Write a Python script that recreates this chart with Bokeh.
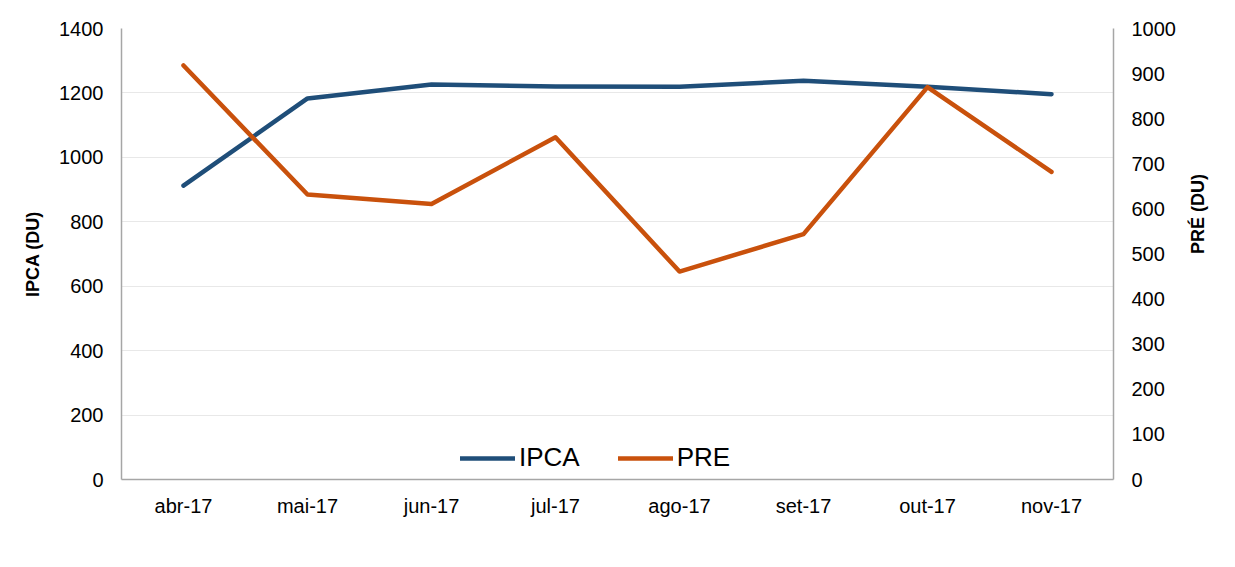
import math
from bokeh.plotting import figure
from bokeh.models import (Range1d, LinearAxis, FactorRange, FixedTicker, Legend, LegendItem)
from bokeh.embed import file_html
from bokeh.resources import INLINE

months = ["abr-17", "mai-17", "jun-17", "jul-17", "ago-17", "set-17", "out-17", "nov-17"]
ipca = [912, 1183, 1226, 1220, 1219, 1238, 1219, 1196]
pre = [918, 632, 611, 759, 461, 544, 870, 682]
left_ticks = [0, 200, 400, 600, 800, 1000, 1200, 1400]
right_ticks = [0, 100, 200, 300, 400, 500, 600, 700, 800, 900, 1000]

FONT = "Liberation Sans"
AXIS_COLOR = "#A6A6A6"
BLUE = "#1F4E79"
ORANGE = "#C9510C"

p = figure(width=1233, height=565, x_range=FactorRange(*months, range_padding=0),
           y_range=Range1d(0, 1400), output_backend="svg", toolbar_location=None,
           min_border_left=121, min_border_right=120, min_border_top=28, min_border_bottom=86)
p.extra_y_ranges = {"pre": Range1d(0, 1000)}
p.outline_line_color = None
p.background_fill_color = "white"
p.border_fill_color = "white"

l_ipca = p.line(months, ipca, line_color=BLUE, line_width=4.5, line_cap="round", line_join="round")
l_pre = p.line(months, pre, line_color=ORANGE, line_width=4.5, line_cap="round", line_join="round",
               y_range_name="pre")

# grid
p.xgrid.grid_line_color = None
p.ygrid.grid_line_color = "#E8E8E8"
p.ygrid.grid_line_width = 1.2
p.ygrid.ticker = FixedTicker(ticks=left_ticks)

# left axis
ya = p.yaxis[0]
ya.ticker = FixedTicker(ticks=left_ticks)
ya.axis_label = "IPCA (DU)"
ya.axis_label_text_font = FONT
ya.axis_label_text_font_style = "bold"
ya.axis_label_text_font_size = "18px"
ya.axis_label_text_color = "black"
ya.axis_label_standoff = 13
ya.major_label_text_font = FONT
ya.major_label_text_font_size = "20px"
ya.major_label_text_color = "black"
ya.major_label_standoff = 12
ya.major_tick_line_color = None
ya.minor_tick_line_color = None
ya.axis_line_color = AXIS_COLOR
ya.axis_line_width = 1.5

# right axis
ra = LinearAxis(y_range_name="pre", ticker=FixedTicker(ticks=right_ticks))
ra.axis_label = "PRÉ (DU)"
ra.axis_label_orientation = math.pi / 2
ra.axis_label_text_font = FONT
ra.axis_label_text_font_style = "bold"
ra.axis_label_text_font_size = "18px"
ra.axis_label_text_color = "black"
ra.axis_label_standoff = 19
ra.major_label_text_font = FONT
ra.major_label_text_font_size = "20px"
ra.major_label_text_color = "black"
ra.major_label_standoff = 12
ra.major_tick_line_color = None
ra.minor_tick_line_color = None
ra.axis_line_color = AXIS_COLOR
ra.axis_line_width = 1.5
p.add_layout(ra, "right")

# x axis
xa = p.xaxis[0]
xa.major_label_text_font = FONT
xa.major_label_text_font_size = "20px"
xa.major_label_text_color = "black"
xa.major_label_standoff = 9
xa.major_tick_line_color = None
xa.minor_tick_line_color = None
xa.axis_line_color = AXIS_COLOR
xa.axis_line_width = 1.5

legend = Legend(items=[LegendItem(label="IPCA", renderers=[l_ipca]),
                       LegendItem(label="PRE", renderers=[l_pre])],
                location=(339, 6), orientation="horizontal",
                label_text_font=FONT, label_text_font_size="26px", label_text_color="black",
                glyph_width=55, glyph_height=20, label_standoff=4, spacing=38,
                padding=0, margin=0, border_line_color=None, background_fill_alpha=0)
p.add_layout(legend, "center")

open("out.html", "w").write(file_html(p, INLINE))
